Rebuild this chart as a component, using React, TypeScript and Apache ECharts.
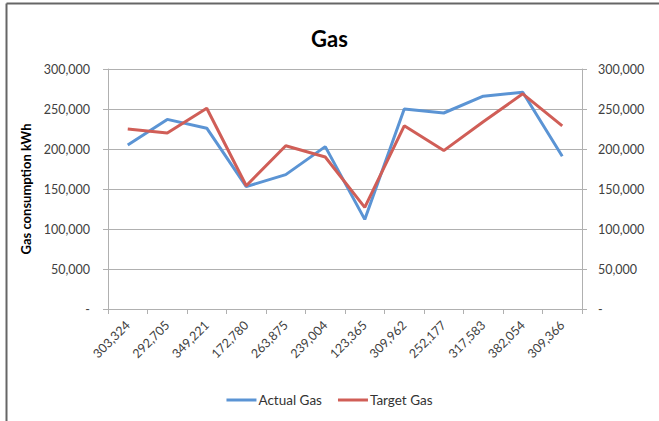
import React, { useEffect, useRef } from "react";
import * as echarts from "echarts";

const categories = [
  "303,324", "292,705", "349,221", "172,780", "263,875", "239,004",
  "123,365", "309,962", "252,177", "317,583", "382,054", "309,366",
];
const actualGas = [205000, 237000, 226000, 153000, 168000, 203000, 112000, 250000, 245000, 266000, 271000, 191000];
const targetGas = [225000, 220000, 251000, 154000, 204000, 190000, 127000, 229000, 198000, 234000, 269000, 229000];

const FONT = "Lato, 'Liberation Sans', sans-serif";
const fmt = (v: number) => (v === 0 ? "-" : v.toLocaleString("en-US"));

export default function App() {
  const ref = useRef<HTMLDivElement>(null);
  useEffect(() => {
    if (!ref.current) return;
    const chart = echarts.init(ref.current, null, { renderer: "svg" });
    const yCommon = {
      type: "value" as const,
      min: 0,
      max: 300000,
      interval: 50000,
      axisLine: { show: true, lineStyle: { color: "#b0b0b0", width: 1 } },
      axisTick: { show: true, length: 5, lineStyle: { color: "#b0b0b0" } },
    };
    chart.setOption({
      animation: false,
      backgroundColor: "#ffffff",
      title: {
        text: "Gas",
        left: "center",
        top: 22,
        textStyle: { fontFamily: FONT, fontSize: 22, fontWeight: "bold", color: "#000" },
      },
      legend: {
        left: "center",
        top: 388,
        icon: "rect",
        itemWidth: 30,
        itemHeight: 3,
        itemGap: 16,
        textStyle: { fontFamily: FONT, fontSize: 13.5, color: "#333", padding: [0, 0, 0, -3] },
        data: ["Actual Gas", "Target Gas"],
      },
      grid: { left: 108, right: 77, top: 69, bottom: 112, containLabel: false },
      xAxis: {
        type: "category",
        data: categories,
        boundaryGap: true,
        axisLine: { show: true, lineStyle: { color: "#b0b0b0" } },
        axisTick: { show: true, length: 5, alignWithLabel: false, lineStyle: { color: "#b0b0b0" } },
        axisLabel: { rotate: 45, margin: 14, interval: 0, fontFamily: FONT, fontSize: 12.5, color: "#404040" },
      },
      yAxis: [
        {
          ...yCommon,
          position: "left",
          name: "Gas consumption kWh",
          nameLocation: "middle",
          nameGap: 76,
          nameTextStyle: { fontFamily: FONT, fontSize: 13, fontWeight: "bold", color: "#000" },
          splitLine: { show: true, lineStyle: { color: "#b0b0b0", width: 1 } },
          axisLabel: { formatter: fmt, margin: 18, fontFamily: FONT, fontSize: 12.5, color: "#404040" },
        },
        {
          ...yCommon,
          position: "right",
          splitLine: { show: false },
          axisLabel: { formatter: fmt, margin: 16, fontFamily: FONT, fontSize: 12.5, color: "#404040" },
        },
      ],
      graphic: [
        { type: "line", shape: { x1: 6.5, y1: 3.5, x2: 659, y2: 3.5 }, style: { stroke: "#666", lineWidth: 2 } },
        { type: "line", shape: { x1: 6.5, y1: 3.5, x2: 6.5, y2: 421 }, style: { stroke: "#666", lineWidth: 2 } },
      ],
      series: [
        {
          name: "Actual Gas",
          type: "line",
          data: actualGas,
          yAxisIndex: 0,
          symbol: "none",
          itemStyle: { color: "#5B94D4" },
          lineStyle: { color: "#5B94D4", width: 3 },
        },
        {
          name: "Target Gas",
          type: "line",
          data: targetGas,
          yAxisIndex: 0,
          symbol: "none",
          itemStyle: { color: "#D05E57" },
          lineStyle: { color: "#D05E57", width: 3 },
        },
      ],
    });
    return () => chart.dispose();
  }, []);
  return (
    <div
      ref={ref}
      style={{ position: "absolute", left: 0, top: 0, width: 659, height: 421 }}
    />
  );
}
